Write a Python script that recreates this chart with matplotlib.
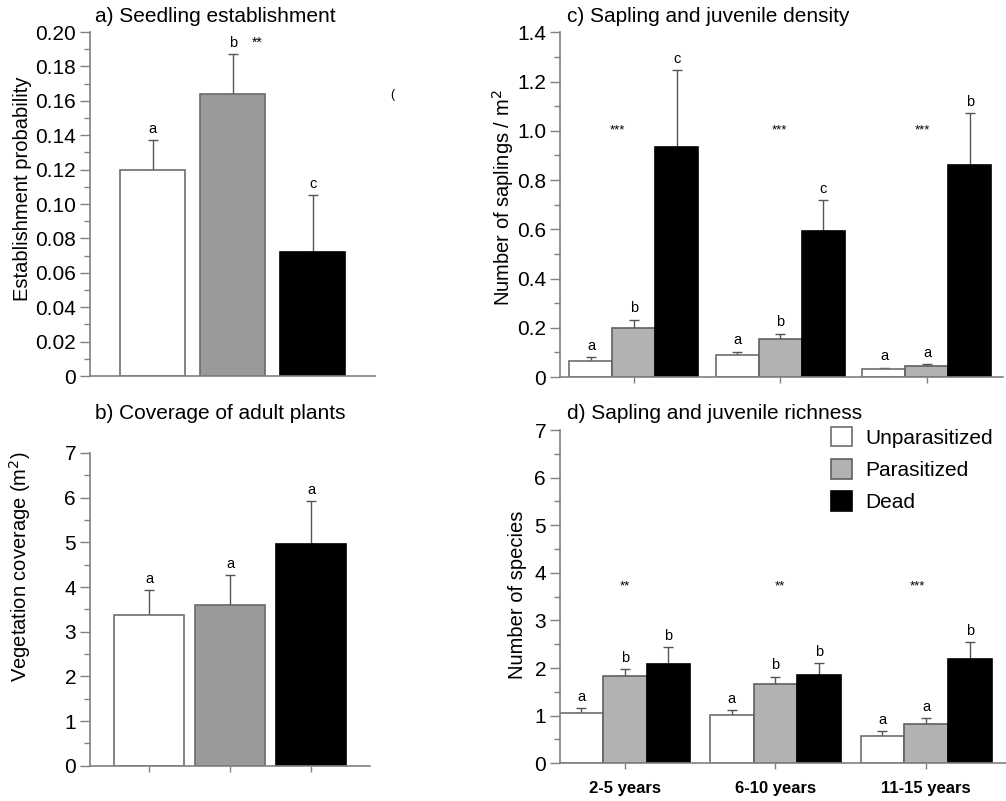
import matplotlib
matplotlib.use("Agg")
import matplotlib.pyplot as plt
import numpy as np
from matplotlib.patches import Patch
from matplotlib.ticker import MultipleLocator, FuncFormatter

plt.rcParams['font.family'] = ['Liberation Sans', 'DejaVu Sans']

# ---------------- data ----------------
treatments = ["Unparasitized", "Parasitized", "Dead"]
age_classes = ["2-5 years", "6-10 years", "11-15 years"]

# a) seedling establishment
est_mean = [0.120, 0.164, 0.072]
est_se = [0.017, 0.023, 0.033]
est_letters = ["a", "b", "c"]
est_stars = "**"

# b) coverage of adult plants
cov_mean = [3.37, 3.60, 4.97]
cov_se = [0.57, 0.67, 0.95]
cov_letters = ["a", "a", "a"]

# c) sapling density (per treatment, across age classes)
dens_unpar = [0.067, 0.089, 0.031]
dens_par = [0.197, 0.153, 0.044]
dens_dead = [0.935, 0.592, 0.862]
dens_unpar_se = [0.013, 0.014, 0.007]
dens_par_se = [0.036, 0.023, 0.008]
dens_dead_se = [0.310, 0.125, 0.210]
dens_letters_unpar = ["a", "a", "a"]
dens_letters_par = ["b", "b", "a"]
dens_letters_dead = ["c", "c", "b"]
dens_stars = ["***", "***", "***"]

# d) sapling richness
rich_unpar = [1.05, 1.015, 0.574]
rich_par = [1.83, 1.67, 0.83]
rich_dead = [2.08, 1.86, 2.20]
rich_unpar_se = [0.105, 0.105, 0.106]
rich_par_se = [0.14, 0.15, 0.12]
rich_dead_se = [0.36, 0.25, 0.35]
rich_letters_unpar = ["a", "a", "a"]
rich_letters_par = ["b", "b", "a"]
rich_letters_dead = ["b", "b", "b"]
rich_stars = ["**", "**", "***"]

# ---------------- style ----------------
SPINE = "#808080"
ERR = "#555555"
FS = 15
face_a = ["white", "#9a9a9a", "black"]
edge_a = ["#6e6e6e", "#6a6a6a", "black"]
face_c = ["white", "#b2b2b2", "black"]
edge_c = ["#6e6e6e", "#606060", "black"]

fig = plt.figure(figsize=(10.06, 8.01), dpi=100)
W, H = 1006, 801


def ax_px(l, r, t, b):
    return fig.add_axes([l / W, 1 - b / H, (r - l) / W, (b - t) / H])


def style(ax):
    for s in ["top", "right"]:
        ax.spines[s].set_visible(False)
    for s in ["left", "bottom"]:
        ax.spines[s].set_color(SPINE)
        ax.spines[s].set_linewidth(1.2)
    ax.tick_params(axis="y", which="major", length=7, width=1, color=SPINE,
                   labelsize=FS, pad=3)
    ax.tick_params(axis="y", which="minor", length=4, width=1, color=SPINE)
    ax.tick_params(axis="x", which="major", length=4, width=1, color=SPINE)
    ax.set_facecolor("none")


def err(ax, x, m, se):
    ax.errorbar(x, m, yerr=[np.zeros(len(se)), se], fmt="none", ecolor=ERR,
                elinewidth=1, capsize=3.5, capthick=1, zorder=1)


def letters(ax, x, tops, labs, fs=10.5):
    for xi, t, l in zip(x, tops, labs):
        ax.annotate(l, (xi, t), xytext=(0, 3), textcoords="offset points",
                    ha="center", va="bottom", fontsize=fs)


# ---- panel a ----
ax = ax_px(90, 375, 32, 376)
style(ax)
xa = np.arange(3)
ax.bar(xa, est_mean, width=0.81, color=face_a, edgecolor=edge_a, linewidth=1.2, zorder=2)
err(ax, xa, est_mean, est_se)
tops = np.array(est_mean) + np.array(est_se)
letters(ax, xa, tops, est_letters)
ax.annotate(est_stars, (xa[1], tops[1]), xytext=(14, 3), textcoords="offset points",
            ha="left", va="bottom", fontsize=10)
ax.set_xlim(-0.78, 2.775)
ax.set_ylim(0, 0.2)
ax.set_xticks([])
ax.yaxis.set_major_locator(MultipleLocator(0.02))
ax.yaxis.set_minor_locator(MultipleLocator(0.01))
ax.yaxis.set_major_formatter(FuncFormatter(lambda v, p: "0" if abs(v) < 1e-9 else f"{v:.2f}"))
ax.set_ylabel("Establishment probability", fontsize=14.5)
ax.yaxis.set_label_coords(-0.204, 0.544)
fig.text(95 / W, 1 - 17 / H, "a) Seedling establishment", fontsize=FS, va="center", ha="left")

# ---- panel b ----
ax = ax_px(90, 370, 453, 765.7)
style(ax)
ax.bar(xa, cov_mean, width=0.865, color=face_a, edgecolor=edge_a, linewidth=1.2, zorder=2)
err(ax, xa, cov_mean, cov_se)
letters(ax, xa, np.array(cov_mean) + np.array(cov_se), cov_letters)
ax.set_xlim(-0.728, 2.728)
ax.set_ylim(0, 7)
ax.set_xticks(xa)
ax.set_xticklabels([])
ax.yaxis.set_major_locator(MultipleLocator(1))
ax.yaxis.set_minor_locator(MultipleLocator(0.5))
ax.set_ylabel("Vegetation coverage (m$^2$)", fontsize=14.5)
ax.yaxis.set_label_coords(-0.205, 0.637)
fig.text(95 / W, 1 - 413 / H, "b) Coverage of adult plants", fontsize=FS, va="center", ha="left")


def grouped(ax, series, ses, labs, width):
    xg = np.arange(3)
    for k, (m, s, l) in enumerate(zip(series, ses, labs)):
        xk = xg + (k - 1) * width
        ax.bar(xk, m, width=width, color=face_c[k], edgecolor=edge_c[k],
               linewidth=1.2, zorder=2)
        err(ax, xk, m, s)
        letters(ax, xk, np.array(m) + np.array(s), l)
    return xg


# ---- panel c ----
ax = ax_px(560, 1003, 32.3, 377)
style(ax)
xg = grouped(ax, [dens_unpar, dens_par, dens_dead],
             [dens_unpar_se, dens_par_se, dens_dead_se],
             [dens_letters_unpar, dens_letters_par, dens_letters_dead], 0.2935)
for xs, st in zip([-0.116, 0.99, 1.966], dens_stars):
    ax.text(xs, 1.0, st, ha="center", va="center", fontsize=9.5)
ax.set_xlim(-0.505, 2.519)
ax.set_ylim(0, 1.4)
ax.set_xticks(xg)
ax.set_xticklabels([])
ax.yaxis.set_major_locator(MultipleLocator(0.2))
ax.yaxis.set_minor_locator(MultipleLocator(0.1))
ax.yaxis.set_major_formatter(FuncFormatter(lambda v, p: "0" if abs(v) < 1e-9 else f"{v:.1f}"))
ax.get_yticklabels()[0].set_fontweight("bold")
ax.set_ylabel("Number of saplings / m$^2$", fontsize=14.5)
ax.yaxis.set_label_coords(-0.100, 0.519)
fig.text(567 / W, 1 - 17 / H, "c) Sapling and juvenile density", fontsize=FS, va="center", ha="left")

# ---- panel d ----
ax = ax_px(560, 1006, 430, 763.3)
style(ax)
xg = grouped(ax, [rich_unpar, rich_par, rich_dead],
             [rich_unpar_se, rich_par_se, rich_dead_se],
             [rich_letters_unpar, rich_letters_par, rich_letters_dead], 0.29)
for xs, st in zip([0.0, 1.03, 1.945], rich_stars):
    ax.text(xs, 3.71, st, ha="center", va="center", fontsize=9.5)
ax.set_xlim(-0.43, 2.53)
ax.set_ylim(0, 7)
ax.set_xticks(xg)
ax.set_xticklabels(age_classes, fontsize=12, fontweight="bold")
ax.tick_params(axis="x", pad=9)
ax.yaxis.set_major_locator(MultipleLocator(1))
ax.yaxis.set_minor_locator(MultipleLocator(0.5))
ax.set_ylabel("Number of species", fontsize=14.5)
ax.yaxis.set_label_coords(-0.074, 0.505)
fig.text(567 / W, 1 - 413 / H, "d) Sapling and juvenile richness", fontsize=FS, va="center", ha="left")

handles = [Patch(facecolor=face_c[k], edgecolor=edge_c[k], linewidth=1.2) for k in range(3)]
fig.legend(handles, treatments, loc="upper left", bbox_to_anchor=(831 / W, 1 - 427 / H),
           frameon=False, fontsize=FS, handlelength=1.0, handleheight=1.05,
           handletextpad=0.65, labelspacing=0.55, borderpad=0, borderaxespad=0)

fig.text(392 / W, 1 - 95 / H, "(", fontsize=9, ha="center", va="center")

fig.savefig("out.png", dpi=100)
